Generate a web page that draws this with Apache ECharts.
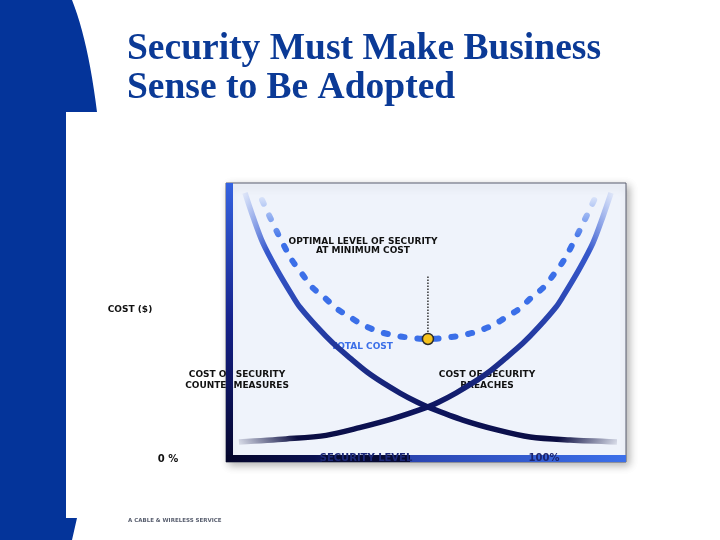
<!DOCTYPE html>
<html><head><meta charset="utf-8">
<script src="https://cdn.jsdelivr.net/npm/echarts@6/dist/echarts.min.js"></script>
<style>html,body{margin:0;padding:0;background:#fff}#c{width:720px;height:540px}</style>
</head><body><div id="c"></div>
<script>
// Security level (% of 100) and cost (relative units 0-100)
const countermeasuresLevel = [3.05, 5.1, 7.6, 11.2, 15.3, 17.0, 21.4, 25.4, 29.8, 34.1, 38.2, 42.5, 46.8, 49.6, 58.5, 67.2, 75.6, 85.8, 97.7];
const countermeasuresCost  = [96.0, 87.2, 77.7, 67.8, 57.9, 54.2, 46.9, 41.0, 35.5, 30.4, 26.4, 22.7, 19.4, 17.6, 12.8, 9.2, 6.6, 5.5, 4.8];
const breachesLevel = [1.5, 13.5, 23.7, 32.2, 40.7, 49.6, 52.4, 56.7, 61.0, 65.1, 69.4, 73.8, 77.8, 82.2, 83.9, 88.0, 91.6, 94.1, 96.2];
const breachesCost  = [4.8, 5.9, 7.2, 10.0, 13.3, 17.6, 19.4, 22.7, 26.4, 30.4, 35.5, 41.0, 46.9, 54.2, 57.9, 67.8, 77.7, 87.2, 96.0];
const totalLevel = [7.4, 11.2, 15.0, 17.6, 20.1, 23.4, 26.5, 29.8, 33.1, 37.4, 41.7, 45.5, 49.6, 53.7, 57.5, 61.8, 66.2, 69.5, 72.8, 75.8, 79.1, 81.7, 84.2, 88.0, 91.9];
const totalCost  = [93.4, 81.7, 71.4, 66.3, 61.5, 57.5, 53.5, 50.5, 47.6, 45.1, 43.6, 42.9, 42.5, 42.9, 43.6, 45.1, 47.6, 50.5, 53.5, 57.5, 61.5, 66.3, 71.4, 81.7, 93.4];
const optimalLevel = 49.6;
const optimalCost = 42.5;
const pointerTop = 65.9;
const titleLines = ['Security Must Make Business', 'Sense to Be Adopted'];
const xTickLabels = ['0 %', 'SECURITY LEVEL', '100%'];
const yAxisLabel = 'COST ($)';

const zip = (xs, ys) => xs.map((x, i) => [x, ys[i]]);
const LG = echarts.graphic.LinearGradient;
const curveStops = [
  {offset: 0, color: 'rgba(80,120,230,0.05)'},
  {offset: 0.12, color: '#3658cc'},
  {offset: 0.35, color: '#22389e'},
  {offset: 0.6, color: '#0e1660'},
  {offset: 0.88, color: '#0a0c40'},
  {offset: 1, color: 'rgba(10,12,64,0.05)'}
];
const lab = 'bold 9px "DejaVu Sans"';

// decorative left band outline (quadratic edge at the top)
const bandPts = [[0, 0]];
for (let i = 0; i <= 12; i++) {
  const t = i / 12;
  const x = (1 - t) * (1 - t) * 72 + 2 * (1 - t) * t * 88 + t * t * 97;
  const y = 2 * (1 - t) * t * 40 + t * t * 112;
  bandPts.push([x, y]);
}
bandPts.push([66, 112], [66, 518], [77, 518], [72, 540], [0, 540]);

const chart = echarts.init(document.getElementById('c'), null, {renderer: 'canvas'});
chart.setOption({
  animation: false,
  backgroundColor: '#ffffff',
  title: {
    text: titleLines.join('\n'), left: 127, top: 30, padding: 0,
    textStyle: {fontFamily: 'Liberation Serif', fontWeight: 'bold', fontSize: 37.5, lineHeight: 39, color: '#0b3a96'}
  },
  grid: {left: 233, top: 182, width: 393, height: 273},
  xAxis: {type: 'value', min: 0, max: 100, show: false},
  yAxis: {type: 'value', min: 0, max: 100, show: false},
  graphic: [
    {type: 'polygon', z: 0, shape: {points: bandPts}, style: {fill: '#04349a'}},
    {type: 'rect', z: 0, shape: {x: 226, y: 183, width: 400, height: 279},
      style: {fill: '#eff3fb', stroke: '#5a5f70', lineWidth: 1, shadowBlur: 8, shadowOffsetX: 3, shadowOffsetY: 3, shadowColor: 'rgba(0,0,0,0.3)'}},
    {type: 'text', z: 1, x: 363, y: 246, style: {text: 'OPTIMAL LEVEL OF SECURITY\nAT MINIMUM COST', font: lab, fill: '#111', textAlign: 'center', textVerticalAlign: 'middle', lineHeight: 9}},
    {type: 'text', z: 1, x: 130, y: 310, style: {text: yAxisLabel, font: lab, fill: '#111', textAlign: 'center', textVerticalAlign: 'middle'}},
    {type: 'text', z: 1, x: 362, y: 347, style: {text: 'TOTAL COST', font: lab, fill: '#3b6fe8', textAlign: 'center', textVerticalAlign: 'middle'}},
    {type: 'text', z: 1, x: 237, y: 380, style: {text: 'COST OF SECURITY\nCOUNTERMEASURES', font: lab, fill: '#111', textAlign: 'center', textVerticalAlign: 'middle', lineHeight: 11}},
    {type: 'text', z: 1, x: 487, y: 380, style: {text: 'COST OF SECURITY\nBREACHES', font: lab, fill: '#111', textAlign: 'center', textVerticalAlign: 'middle', lineHeight: 11}},
    {type: 'rect', z: 3, shape: {x: 226, y: 183, width: 7, height: 279},
      style: {fill: new LG(0, 0, 0, 1, [{offset: 0, color: '#3462e0'}, {offset: 0.5, color: '#14208a'}, {offset: 1, color: '#04052a'}])}},
    {type: 'rect', z: 3, shape: {x: 226, y: 455, width: 400, height: 7},
      style: {fill: new LG(0, 0, 1, 0, [{offset: 0, color: '#04052a'}, {offset: 0.22, color: '#0a1050'}, {offset: 0.46, color: '#2a44b0'}, {offset: 1, color: '#3c70ea'}])}},
    {type: 'rect', z: 3, shape: {x: 322, y: 455, width: 88, height: 7}, style: {fill: '#070a34'}},
    {type: 'text', z: 4, x: 168, y: 459, style: {text: xTickLabels[0], font: 'bold 10px "DejaVu Sans"', fill: '#111', textAlign: 'center', textVerticalAlign: 'middle'}},
    {type: 'text', z: 4, x: 366, y: 458, style: {text: xTickLabels[1], font: 'bold 10px "DejaVu Sans"', fill: '#1c2878', textAlign: 'center', textVerticalAlign: 'middle'}},
    {type: 'text', z: 4, x: 544, y: 458, style: {text: xTickLabels[2], font: 'bold 10px "DejaVu Sans"', fill: '#1a2470', textAlign: 'center', textVerticalAlign: 'middle'}},
    {type: 'text', z: 4, x: 128, y: 521, style: {text: 'A CABLE & WIRELESS SERVICE', font: 'bold 5.5px "DejaVu Sans"', fill: '#5a6070', textAlign: 'left', textVerticalAlign: 'middle'}}
  ],
  series: [
    {type: 'line', z: 2, data: zip(countermeasuresLevel, countermeasuresCost), smooth: 0.3, showSymbol: false,
      lineStyle: {width: 5.5, color: new LG(0, 0, 1, 1, curveStops)}},
    {type: 'line', z: 2, data: zip(breachesLevel, breachesCost), smooth: 0.3, showSymbol: false,
      lineStyle: {width: 5.5, color: new LG(1, 0, 0, 1, curveStops)}},
    {type: 'line', z: 2, data: zip(totalLevel, totalCost), smooth: 0.3, showSymbol: false,
      lineStyle: {width: 6, type: [4, 13], cap: 'round',
        color: new LG(0, 0, 0, 1, [{offset: 0, color: 'rgba(59,111,232,0.12)'}, {offset: 0.3, color: '#3b6fe8'}, {offset: 1, color: '#3b6fe8'}])}},
    {type: 'line', z: 2, data: [[optimalLevel, optimalCost + 1.5], [optimalLevel, pointerTop]], showSymbol: false,
      lineStyle: {width: 1.5, type: 'dotted', color: '#333'}},
    {type: 'scatter', z: 5, data: [[optimalLevel, optimalCost]], symbolSize: 11,
      itemStyle: {color: '#f6c21c', borderColor: '#2a2a2a', borderWidth: 1.5, opacity: 1}}
  ]
});
</script></body></html>
